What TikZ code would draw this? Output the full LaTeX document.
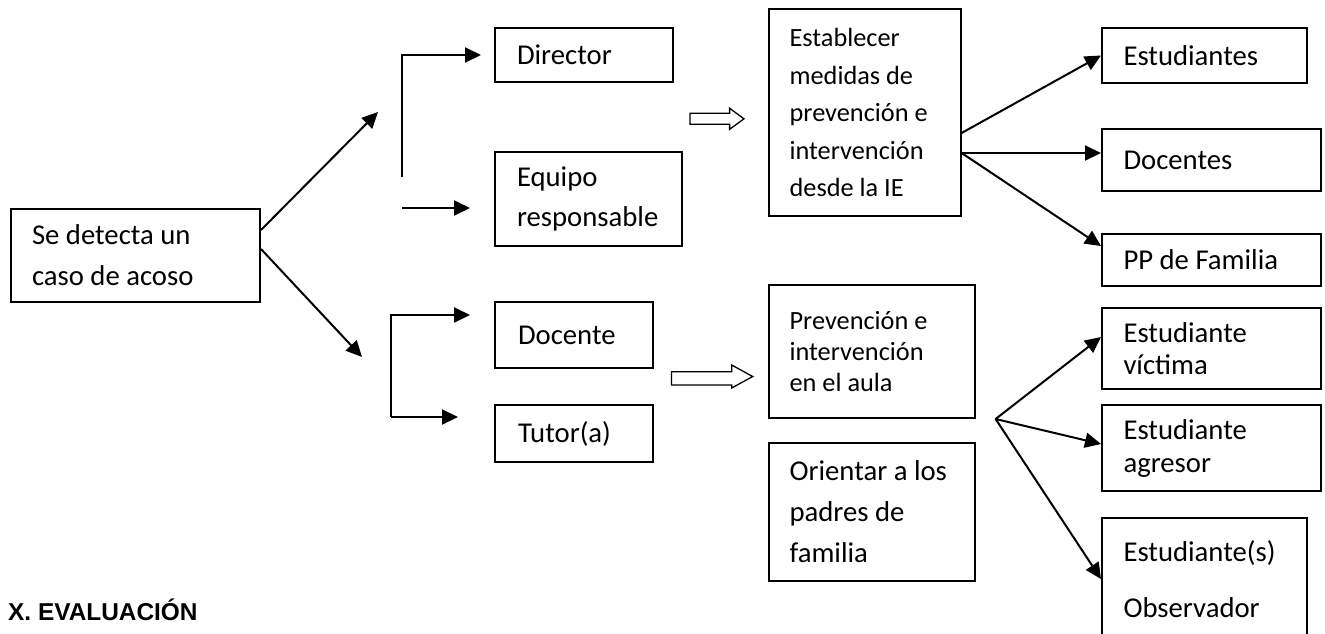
\documentclass[tikz,border=0pt]{standalone}
\usepackage{fontspec}
\setmainfont{Carlito}
\newfontfamily\headfont{Liberation Sans}
\usetikzlibrary{arrows.meta}

\begin{document}
\begin{tikzpicture}[
    x=1pt, y=-1pt,
    blk/.style={draw, line width=2pt, anchor=north west, align=flush left, inner ysep=0pt, inner xsep=21pt, font=\fontsize{28.7}{35}\selectfont},
    ls/.style={font=\fontsize{28.7}{#1}\selectfont},
    small/.style={font=\fontsize{26.3}{#1}\selectfont},
    arr/.style={line width=2pt, -{Triangle[length=16pt,width=15pt]}},
    hol/.style={draw, line width=1.3pt}
]
\useasboundingbox (0,0) rectangle (1325,633);
\clip (0,0) rectangle (1325,633);

\node[blk, minimum width=249pt, minimum height=93pt, text width=207pt, ls=41pt] (src) at (10,208) {Se detecta un\\caso de acoso};

\node[blk, inner xsep=22pt, minimum width=178pt, minimum height=54pt, text width=134pt] (dir) at (494,27) {Director};
\node[blk, inner xsep=22pt, minimum width=187pt, minimum height=94pt, text width=143pt, ls=40pt] (equ) at (494,151) {Equipo\\responsable};
\node[blk, inner xsep=23pt, minimum width=158pt, minimum height=66pt, text width=112pt] (doc) at (494,301) {Docente};
\node[blk, inner xsep=23pt, minimum width=158pt, minimum height=57pt, text width=112pt] (tut) at (494,404) {Tutor(a)};

\node[blk, minimum width=192pt, minimum height=207pt, text width=150pt, small=37.5pt] (est) at (767.6,8) {Establecer\\medidas de\\prevención e\\intervención\\desde la IE};
\node[blk, minimum width=206pt, minimum height=133pt, text width=164pt, small=31pt] (pre) at (767.6,284) {Prevención e\\intervención\\en el aula};
\node[blk, minimum width=206pt, minimum height=138pt, text width=164pt, ls=41pt] (ori) at (767.6,442) {Orientar a los\\padres de\\familia};

\node[blk, inner xsep=21.5pt, minimum width=205pt, minimum height=55pt, text width=162pt] (stu) at (1101,27) {Estudiantes};
\node[blk, inner xsep=21.5pt, minimum width=219pt, minimum height=62pt, text width=176pt] (dcs) at (1101,128) {Docentes};
\node[blk, inner xsep=21.5pt, minimum width=219pt, minimum height=52pt, text width=176pt] (pp) at (1101,233) {PP de Familia};
\node[blk, inner xsep=21.5pt, minimum width=219pt, minimum height=81pt, text width=176pt, ls=32pt] (vic) at (1101,307) {Estudiante\\víctima};
\node[blk, inner xsep=21.5pt, minimum width=219pt, minimum height=86pt, text width=176pt, ls=33pt] (agr) at (1101,404) {Estudiante\\agresor};
\node[blk, inner xsep=21.5pt, minimum width=205pt, minimum height=122pt, text width=162pt, ls=56pt] (obs) at (1101,517) {Estudiante(s)\\Observador};

\node[anchor=base west, inner sep=0pt, font=\headfont\bfseries\fontsize{24.4}{28}\selectfont] (ev) at (8,620) {X. EVALUACIÓN};

% free ends of the connectors
\coordinate (j1) at (378,112);
\coordinate (j2) at (362,357);
\coordinate (b1) at (402,177);
\coordinate (b2) at (402,208);
\coordinate (c1) at (391,315);
\coordinate (c2) at (391,417);
\coordinate (e1) at ([yshift=-20.5pt]est.east);
\coordinate (e2) at ([yshift=-40.5pt]est.east);
\coordinate (g) at ([xshift=20pt]pre.south east);

\draw[arr] ([yshift=25.5pt]src.east) -- (j1);
\draw[arr] ([yshift=6.5pt]src.east) -- (j2);
\draw[arr, shorten >=13pt] (b1) |- (dir.west);
\draw[arr, shorten >=24pt] (b2) -- (b2 -| equ.west);
\draw[arr, shorten >=24pt] (c2) -- (c1) -- (c1 -| doc.west);
\draw[arr, shorten >=36pt] (c2) -- (c2 -| tut.west);

\draw[arr] (e1) -- (stu.west);
\draw[arr] (e2) -- (e2 -| dcs.west);
\draw[arr] (e2) -- ([yshift=14pt]pp.west);
\draw[arr] (g) -- ([yshift=11.5pt]vic.west);
\draw[arr] (g) -- ([yshift=4pt]agr.west);
\draw[arr] (g) -- (obs.west);

% hollow arrows
\draw[hol] (690,113.3) -- (729.6,113.3) -- (729.6,108.3) -- (744,118.8) -- (729.6,129.3) -- (729.6,124.3) -- (690,124.3) -- cycle;
\draw[hol] (671.5,371.7) -- (731.7,371.7) -- (731.7,365) -- (752.7,376.5) -- (731.7,388) -- (731.7,385) -- (671.5,385) -- cycle;
\end{tikzpicture}
\end{document}
